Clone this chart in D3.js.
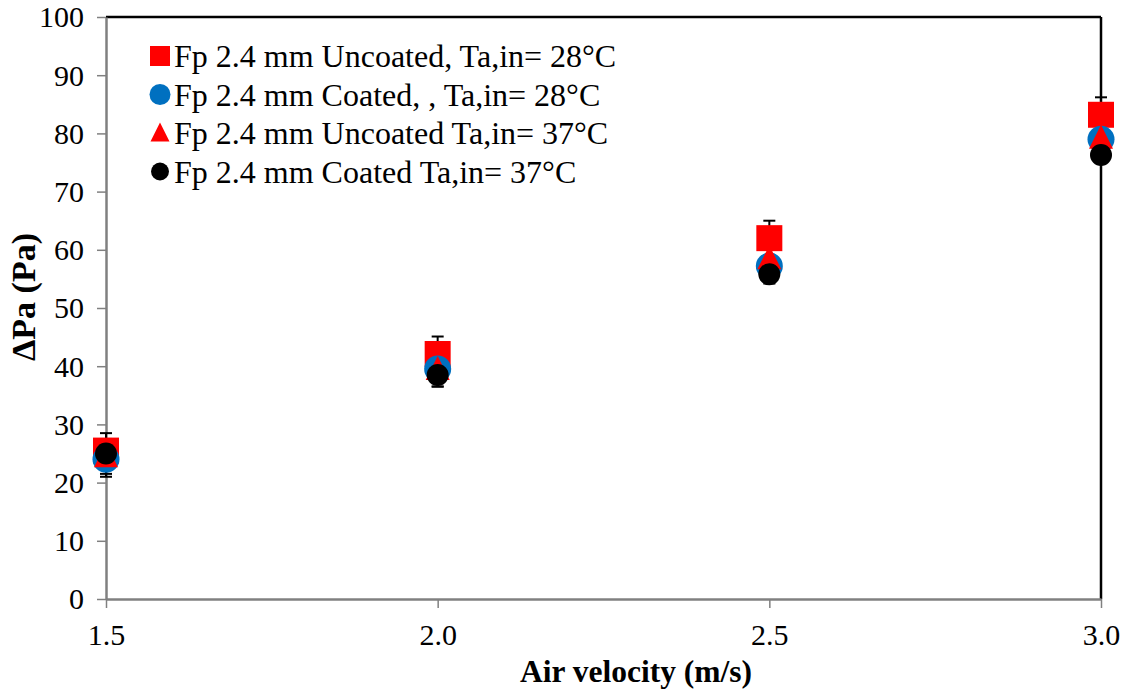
<!DOCTYPE html>
<html lang="en">
<head>
  <meta charset="UTF-8">
  <title>Pressure drop vs air velocity</title>
  <style>
  body { margin: 0; background: #fff; }
  svg { font-family: "Liberation Serif", "Times New Roman", serif; }
  </style>
</head>
<body>
  <svg></svg>
  <script src="https://d3js.org/d3.v7.min.js"></script>
  <script>
  var velocity = [1.5, 2.0, 2.5, 3.0];
  var uncoated28 = [25.5, 42.1, 62.0, 83.2];
  var coated28 = [24.0, 39.5, 57.2, 79.0];
  var uncoated37 = [24.5, 39.5, 58.5, 79.2];
  var coated37 = [25.0, 38.5, 55.8, 76.3];
  // +/- error bar half-lengths (Pa); the black series shows none
  var errUncoated28 = [3, 3, 3, 3];
  var errCoated28 = [3, 3, 3, 3];
  var errUncoated37 = [3, 3, 3, 3];
  var errCoated37 = [0, 0, 0, 0];
  var seriesNames = [
    "Fp 2.4 mm Uncoated, Ta,in= 28°C",
    "Fp 2.4 mm Coated, , Ta,in= 28°C",
    "Fp 2.4 mm Uncoated Ta,in= 37°C",
    "Fp 2.4 mm Coated Ta,in= 37°C"
  ];
  var yTicks = [0, 10, 20, 30, 40, 50, 60, 70, 80, 90, 100];
  var xTicks = [1.5, 2.0, 2.5, 3.0];

  var width = 1135, height = 690;
  var m = { left: 106, right: 1101, top: 17, bottom: 599 };

  var series = [
    { name: seriesNames[0], values: uncoated28, err: errUncoated28, shape: "square", color: "#ff0000", size: 26, legSize: 20 },
    { name: seriesNames[1], values: coated28, err: errCoated28, shape: "circle", color: "#0070c0", size: 27, legSize: 21 },
    { name: seriesNames[2], values: uncoated37, err: errUncoated37, shape: "triangle", color: "#ff0000", size: 24, legSize: 19 },
    { name: seriesNames[3], values: coated37, err: errCoated37, shape: "circle", color: "#000000", size: 22, legSize: 18 }
  ];

  var xScale = d3.scaleLinear().domain([1.5, 3.0]).range([m.left, m.right]);
  var yScale = d3.scaleLinear().domain([0, 100]).range([m.bottom, m.top]);

  var svg = d3.select("svg").attr("width", width).attr("height", height);

  // frame: top and right edges black, axes grey
  svg.append("line").attr("x1", m.left).attr("x2", m.right).attr("y1", m.top).attr("y2", m.top)
    .attr("stroke", "#000").attr("stroke-width", 2.5);
  svg.append("line").attr("x1", m.right).attr("x2", m.right).attr("y1", m.top).attr("y2", m.bottom)
    .attr("stroke", "#000").attr("stroke-width", 2.5);

  var yAxis = svg.append("g").attr("transform", "translate(" + m.left + ",0)")
    .call(d3.axisLeft(yScale).tickValues(yTicks).tickSize(9).tickPadding(13).tickSizeOuter(0));
  var xAxis = svg.append("g").attr("transform", "translate(0," + m.bottom + ")")
    .call(d3.axisBottom(xScale).tickValues(xTicks).tickFormat(d3.format(".1f")).tickSize(9).tickPadding(16).tickSizeOuter(0));

  [yAxis, xAxis].forEach(function(ax) {
    ax.attr("font-size", null).attr("font-family", null);
    ax.select(".domain").attr("stroke", "#808080").attr("stroke-width", 2.5);
    ax.selectAll(".tick line").attr("stroke", "#808080").attr("stroke-width", 1.5);
    ax.selectAll(".tick text").attr("fill", "#000").style("font-size", "30px");
  });
  yAxis.selectAll(".tick text").attr("dy", "0.33em");

  // axis titles
  svg.append("text").attr("x", 636).attr("y", 682)
    .attr("text-anchor", "middle").style("font-size", "31.5px").style("font-weight", "bold")
    .text("Air velocity (m/s)");
  svg.append("text").attr("transform", "translate(35,297) rotate(-90)")
    .attr("text-anchor", "middle").style("font-size", "34px").style("font-weight", "bold")
    .text("ΔPa (Pa)");

  function symbolPath(shape, size) {
    if (shape === "square") {
      var h = size / 2;
      return "M" + -h + "," + -h + "H" + h + "V" + h + "H" + -h + "Z";
    }
    if (shape === "triangle") {
      var w = size / 2;
      return "M0," + (-size * 0.55) + "L" + w + "," + (size * 0.45) + "L" + -w + "," + (size * 0.45) + "Z";
    }
    var r = size / 2;
    return "M" + r + ",0A" + r + "," + r + " 0 1,1 " + -r + ",0A" + r + "," + r + " 0 1,1 " + r + ",0Z";
  }

  // error bars under the markers
  var eb = svg.append("g");
  series.forEach(function(s) {
    s.values.forEach(function(v, i) {
      if (!s.err[i]) return;
      var x = xScale(velocity[i]);
      var y1 = yScale(v - s.err[i]), y2 = yScale(v + s.err[i]);
      eb.append("line").attr("x1", x).attr("x2", x).attr("y1", y1).attr("y2", y2)
        .attr("stroke", "#000").attr("stroke-width", 2);
      [y1, y2].forEach(function(yy) {
        eb.append("line").attr("x1", x - 6).attr("x2", x + 6).attr("y1", yy).attr("y2", yy)
          .attr("stroke", "#000").attr("stroke-width", 2);
      });
    });
  });

  // markers
  series.forEach(function(s) {
    svg.append("g").selectAll("path")
      .data(s.values)
      .enter()
      .append("path")
        .attr("d", symbolPath(s.shape, s.size))
        .attr("transform", (d, i) => "translate(" + xScale(velocity[i]) + "," + yScale(d) + ")")
        .attr("fill", s.color);
  });

  // legend
  var legend = svg.append("g").attr("transform", "translate(160,56)");
  series.forEach(function(s, i) {
    var row = legend.append("g").attr("transform", "translate(0," + (i * 38.5) + ")");
    row.append("path").attr("d", symbolPath(s.shape, s.legSize)).attr("fill", s.color);
    row.append("text").attr("x", 14).attr("y", 0).attr("dy", "0.35em")
      .style("font-size", "32px").text(s.name);
  });
  </script>
</body>
</html>
